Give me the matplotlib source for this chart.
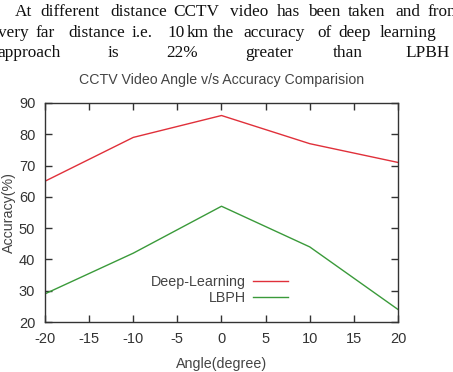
import matplotlib
matplotlib.use("Agg")
import matplotlib.pyplot as plt

plt.rcParams["axes.unicode_minus"] = False

# data
angles = [-20, -10, 0, 10, 20]
deep_learning = [65, 79, 86, 77, 71]
lbph = [29, 42, 57, 44, 24]

x_ticks = [-20, -15, -10, -5, 0, 5, 10, 15, 20]
y_ticks = [20, 30, 40, 50, 60, 70, 80, 90]

W, H = 453, 372
fig = plt.figure(figsize=(W / 100, H / 100), dpi=100)

# paragraph text above the chart (justified lines of the scanned page)
serif = "Liberation Serif"
lines = [
    (12, [("At", 15), ("different", 40), ("distance", 110), ("CCTV", 173),
          ("video", 230), ("has", 277), ("been", 308), ("taken", 348),
          ("and", 395), ("from", 427)]),
    (33, [("very", -2), ("far", 35), ("distance", 68), ("i.e.", 132),
          ("10", 167), ("km", 187), ("the", 213), ("accuracy", 243),
          ("of", 317), ("deep", 338), ("learning", 380)]),
    (53, [("approach", -3), ("is", 108), ("22%", 166), ("greater", 245),
          ("than", 333), ("LPBH", 405)]),
]
for yp, words in lines:
    for word, xp in words:
        fig.text(xp / W, 1 - yp / H, word, family=serif, fontsize=12.4,
                 va="center", ha="left", color="#111111")

ax = fig.add_axes([45 / W, 1 - 322 / H, 353 / W, 219 / H])

ax.plot(angles, deep_learning, color="#e0303a", lw=1.0, label="Deep-Learning")
ax.plot(angles, lbph, color="#3a9a3a", lw=1.0, label="LBPH")

ax.set_xlim(-20, 20)
ax.set_ylim(20, 90)
ax.set_xticks(x_ticks)
ax.set_yticks(y_ticks)
ax.tick_params(direction="in", length=5, width=1, top=True, right=True,
               labelsize=10.5, colors="#333333", pad=7)
for s in ax.spines.values():
    s.set_color("#333333")
    s.set_linewidth(1.0)
for lab in ax.get_xticklabels() + ax.get_yticklabels():
    lab.set_family("Liberation Sans")

ax.set_title("CCTV Video Angle v/s Accuracy Comparision", fontsize=10.2,
             color="#444444", family="Liberation Sans", pad=14)
ax.set_xlabel("Angle(degree)", fontsize=10.3, color="#444444",
              family="Liberation Sans", labelpad=8)
ax.set_ylabel("Accuracy(%)", fontsize=10.3, color="#444444",
              family="Liberation Sans", labelpad=2)

leg = ax.legend(loc="lower left", bbox_to_anchor=(0.264, 0.02), frameon=False,
                markerfirst=False, handlelength=2.4, handletextpad=0.5,
                labelspacing=0.1, prop={"family": "Liberation Sans", "size": 10.3})
for t in leg.get_texts():
    t.set_color("#444444")
    t.set_ha("right")
leg._legend_box.align = "right"

fig.savefig("out.png", dpi=100)
